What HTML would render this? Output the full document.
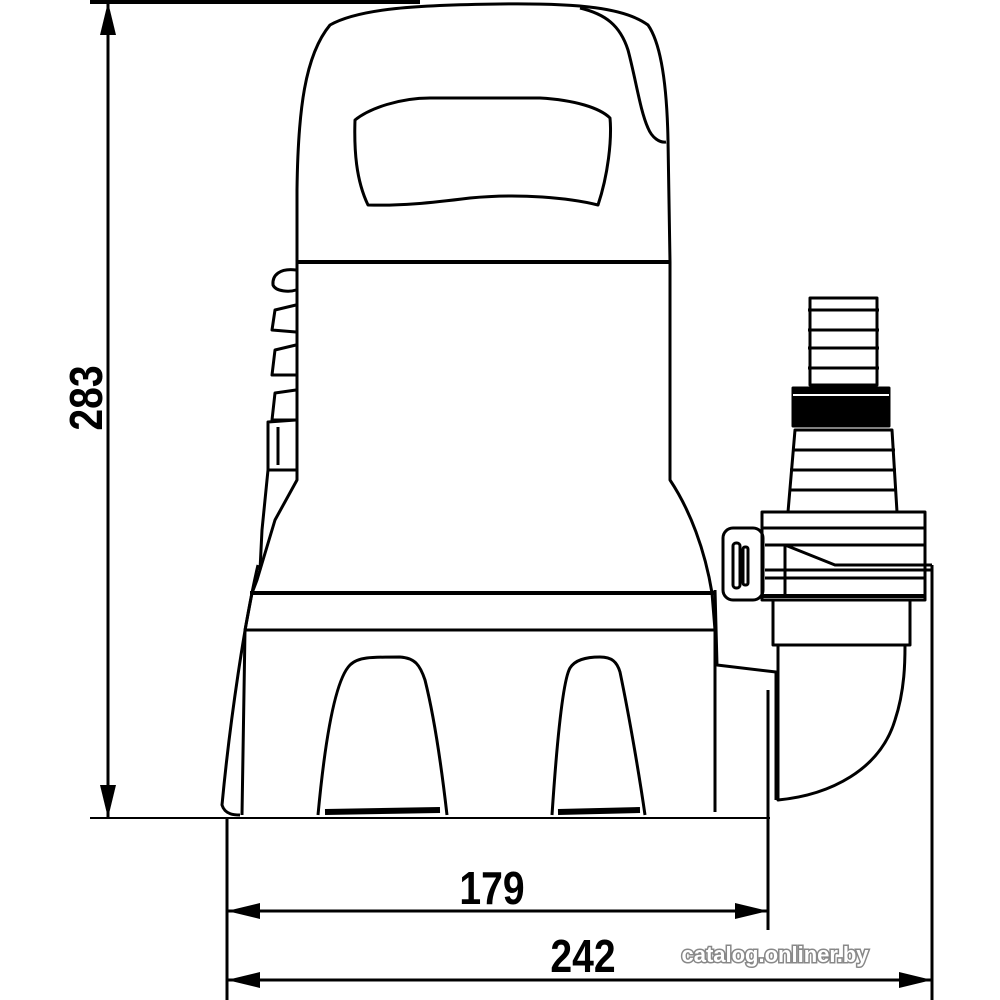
<!DOCTYPE html>
<html><head><meta charset="utf-8"><style>
html,body{margin:0;padding:0;background:#fff;}
svg{display:block;}
.t{font-family:"Liberation Sans",sans-serif;font-weight:bold;fill:#000;}
</style></head><body>
<svg width="1000" height="1000" viewBox="0 0 1000 1000" xmlns="http://www.w3.org/2000/svg">
<g fill="none" stroke="#000" stroke-width="3" stroke-linejoin="round">
<!-- dimension lines -->
<line x1="90" y1="2" x2="420" y2="2" stroke-width="4"/>
<line x1="108" y1="2" x2="108" y2="818"/>
<line x1="90" y1="818" x2="770" y2="818" stroke-width="2"/>
<line x1="227" y1="818" x2="227" y2="1000"/>
<line x1="768" y1="690" x2="768" y2="930"/>
<line x1="932" y1="565" x2="932" y2="1000"/>
<line x1="227" y1="911" x2="768" y2="911"/>
<line x1="227" y1="980" x2="932" y2="980"/>

<!-- handle -->
<path d="M297,262 L297,190 C298,110 305,55 330,25 C360,8 420,5 500,4 C580,3 625,8 648,25 C662,45 667,90 668,140 L670,262"/>
<path d="M580,8 C605,14 620,25 628,50 C636,80 640,110 648,128 C652,138 660,143 666,142"/>
<path d="M355,120 C370,108 400,98 430,98 L540,98 C575,100 600,108 610,118 C612,140 608,175 598,205 C570,198 520,193 470,198 C430,203 400,206 368,205 C356,180 354,150 355,120 Z"/>
<line x1="296" y1="262" x2="670" y2="262" stroke-width="4"/>
<!-- middle body -->
<path d="M297,262 L297,480 L275,520 L257,580 L252,593"/>
<path d="M670,262 L670,480 C690,510 705,550 712,593"/>
<!-- side knobs -->
<path d="M296,270 C280,268 272,275 273,285 C276,292 290,292 296,290"/>
<path d="M296,305 L275,310 L272,330 L296,332"/>
<path d="M296,345 L275,350 L272,375 L296,375"/>
<path d="M296,390 L275,393 L272,420 L296,420"/>
<path d="M296,420 L268,422 L268,470 L296,470"/>
<path d="M278,427 L278,465"/>
<path d="M268,470 L262,530 L260,570"/>
<line x1="250" y1="593" x2="715" y2="593" stroke-width="4"/>
<line x1="245" y1="630" x2="715" y2="630" stroke-width="3"/>
<!-- base -->
<path d="M252,593 L245,630 L242,815"/>
<path d="M258,565 C245,620 230,720 222,805 C225,815 235,815 240,815"/>
<path d="M712,593 L715,630 L715,812"/>
<path d="M318,815 C325,740 335,680 350,665 C358,657 370,657 400,657 C415,658 420,665 425,680 C435,720 443,780 447,815"/>
<path d="M552,815 C557,740 563,680 570,668 C575,660 585,657 600,657 C612,657 617,662 620,672 C630,720 640,780 645,815"/>
<path d="M325,812 L440,810" stroke-width="6"/>
<path d="M558,812 L640,810" stroke-width="6"/>
<!-- connector -->
<path d="M810,298 L877,298 L877,385 L810,385 Z"/>
<path d="M808,310 L879,310 M808,330 L879,330 M808,348 L879,348 M808,368 L879,368"/>
<rect x="793" y="388" width="96" height="38" fill="#000"/>
<line x1="793" y1="395" x2="889" y2="395" stroke="#fff" stroke-width="2"/>
<path d="M795,430 L892,430 L897,512 L788,512 Z"/>
<path d="M792,450 L895,450 M790,470 L896,470 M789,490 L897,490"/>
<rect x="762" y="512" width="163" height="88"/>
<line x1="762" y1="528" x2="925" y2="528"/>
<line x1="765" y1="545" x2="925" y2="545"/>
<line x1="765" y1="570" x2="932" y2="570"/>
<line x1="765" y1="578" x2="925" y2="578"/>
<line x1="762" y1="596" x2="925" y2="596" stroke-width="4"/>
<path d="M785,545 L835,565 L932,565"/>
<line x1="785" y1="545" x2="785" y2="596"/>
<rect x="723" y="528" width="40" height="72" rx="10"/>
<rect x="733" y="543" width="7" height="45" rx="3"/>
<rect x="743" y="547" width="5" height="38" rx="2"/>
<path d="M773,600 L773,645 L910,645 L910,600"/>
<path d="M778,645 L778,800 C830,795 880,770 895,720 C905,690 905,660 905,645"/>
<path d="M715,590 L717,665 L776,672 L776,800"/>
</g>
<!-- arrowheads -->
<g fill="#000">
<polygon points="108,2 100,35 116,35"/>
<polygon points="108,818 100,785 116,785"/>
<polygon points="227,911 260,903 260,919"/>
<polygon points="768,911 735,903 735,919"/>
<polygon points="227,980 260,972 260,988"/>
<polygon points="932,980 899,972 899,988"/>
</g>
<text class="t" x="0" y="0" font-size="46" text-anchor="middle" transform="translate(102,398) rotate(-90) scale(0.85,1)">283</text>
<text class="t" x="0" y="0" font-size="46" text-anchor="middle" transform="translate(492,904) scale(0.85,1)">179</text>
<text class="t" x="0" y="0" font-size="46" text-anchor="middle" transform="translate(583,972) scale(0.85,1)">242</text>
<text x="775" y="962" font-size="22" text-anchor="middle" font-family="Liberation Sans,sans-serif" font-weight="bold" fill="#fff" stroke="#888" stroke-width="3" paint-order="stroke">catalog.onliner.by</text>
</svg>
</body></html>
